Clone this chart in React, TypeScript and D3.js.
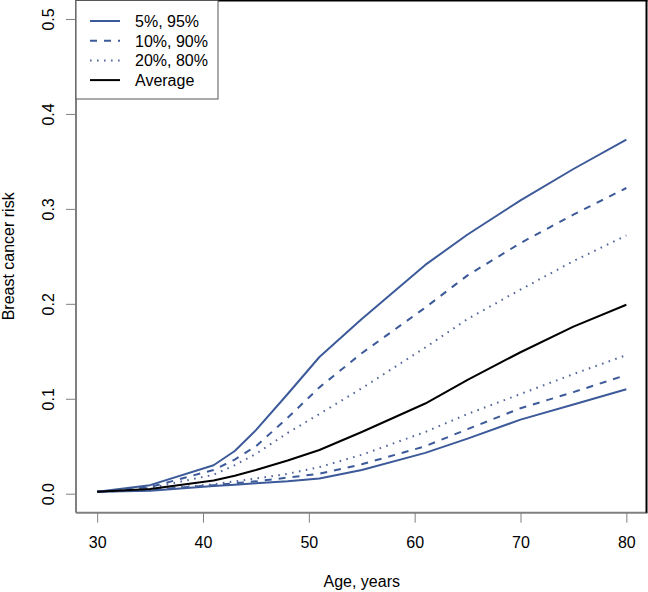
import React, { useEffect, useRef } from 'react';
import * as d3 from 'd3';

const ages = [30, 35, 41, 43, 45, 48, 51, 55, 61, 65, 70, 75, 80];

// risk percentiles and the average
const p95 = [0.002, 0.009, 0.030, 0.045, 0.067, 0.105, 0.144, 0.184, 0.241, 0.273, 0.309, 0.342, 0.373];
const p90 = [0.002, 0.007, 0.025, 0.036, 0.050, 0.080, 0.112, 0.148, 0.196, 0.230, 0.264, 0.294, 0.322];
const p80 = [0.002, 0.006, 0.020, 0.030, 0.042, 0.064, 0.084, 0.111, 0.154, 0.184, 0.215, 0.245, 0.272];
const avg = [0.002, 0.005, 0.014, 0.019, 0.025, 0.035, 0.046, 0.065, 0.095, 0.120, 0.149, 0.176, 0.199];
const p20 = [0.002, 0.004, 0.010, 0.013, 0.016, 0.021, 0.028, 0.041, 0.065, 0.084, 0.105, 0.126, 0.146];
const p10 = [0.002, 0.004, 0.009, 0.011, 0.013, 0.017, 0.021, 0.031, 0.050, 0.068, 0.090, 0.107, 0.125];
const p05 = [0.002, 0.003, 0.008, 0.0095, 0.011, 0.013, 0.016, 0.025, 0.043, 0.058, 0.078, 0.094, 0.110];

const xTicks = [30, 40, 50, 60, 70, 80];
const yTicks = [0, 0.1, 0.2, 0.3, 0.4, 0.5];

const legendLabels = ['5%, 95%', '10%, 90%', '20%, 80%', 'Average'];

const BLUE = '#3c5a99';
const DOT = '#56679a';
const AXIS = '#808080';
const FONT = 'Liberation Sans, Arial, sans-serif';
const FS = 16;

export default function App() {
  const svgRef = useRef<SVGSVGElement>(null);

  useEffect(() => {
    const width = 648;
    const height = 592;
    // plot region (R style: data range padded by 4%)
    const left = 76;
    const right = 647.5;
    const top = 0;
    const bottom = 512.7;

    const svg = d3.select(svgRef.current).attr('width', width).attr('height', height);
    svg.selectAll('*').remove();

    const xScale = d3.scaleLinear().domain([28, 82]).range([left, right]);
    const yScale = d3.scaleLinear().domain([-0.02, 0.52]).range([bottom, top]);

    svg.append('rect').attr('width', width).attr('height', height).attr('fill', 'white');

    // lines
    const styles = [
      { data: p95, color: BLUE, dash: null },
      { data: p05, color: BLUE, dash: null },
      { data: p90, color: BLUE, dash: '7 7' },
      { data: p10, color: BLUE, dash: '7 7' },
      { data: p80, color: DOT, dash: '1.6 5.4' },
      { data: p20, color: DOT, dash: '1.6 5.4' },
      { data: avg, color: 'black', dash: null },
    ];

    const line = d3
      .line<number>()
      .x((d, i) => xScale(ages[i]))
      .y((d) => yScale(d));

    styles.forEach((s) => {
      svg
        .append('path')
        .attr('d', line(s.data))
        .attr('fill', 'none')
        .attr('stroke', s.color)
        .attr('stroke-width', 2)
        .attr('stroke-dasharray', s.dash)
        .attr('stroke-linejoin', 'round');
    });

    // axes
    const xAxis = svg
      .append('g')
      .attr('transform', `translate(0, ${bottom})`)
      .call(d3.axisBottom(xScale).tickValues(xTicks).tickSize(10).tickSizeOuter(0).tickPadding(14));
    xAxis.select('.domain').remove();
    xAxis.selectAll('line').attr('stroke', AXIS);
    xAxis.selectAll('text').attr('font-size', FS).attr('font-family', FONT).attr('fill', 'black');

    const yAxis = svg
      .append('g')
      .attr('transform', `translate(${left}, 0)`)
      .call(d3.axisLeft(yScale).tickValues(yTicks).tickSize(10).tickFormat(d3.format('.1f')));
    yAxis.select('.domain').remove();
    yAxis.selectAll('line').attr('stroke', AXIS);
    // rotated labels, like R's las = 0
    yAxis
      .selectAll('text')
      .attr('font-size', FS)
      .attr('font-family', FONT)
      .attr('fill', 'black')
      .attr('x', 0)
      .attr('y', 0)
      .attr('dy', null)
      .attr('text-anchor', 'middle')
      .attr('transform', 'translate(-22, 0) rotate(-90)');

    // frame: gray L for axes, black top/right edge
    svg.append('line').attr('x1', left).attr('x2', left).attr('y1', top).attr('y2', bottom).attr('stroke', AXIS).attr('stroke-width', 2);
    svg.append('line').attr('x1', left).attr('x2', right).attr('y1', bottom).attr('y2', bottom).attr('stroke', AXIS).attr('stroke-width', 2);
    svg.append('line').attr('x1', left).attr('x2', right).attr('y1', top + 0.5).attr('y2', top + 0.5).attr('stroke', 'black').attr('stroke-width', 2);
    svg.append('line').attr('x1', right - 1).attr('x2', right - 1).attr('y1', top).attr('y2', bottom).attr('stroke', 'black').attr('stroke-width', 2);

    // axis titles
    svg
      .append('text')
      .attr('x', (left + right) / 2)
      .attr('y', 587)
      .attr('text-anchor', 'middle')
      .attr('font-size', FS)
      .attr('font-family', FONT)
      .text('Age, years');

    svg
      .append('text')
      .attr('transform', `translate(13.5, ${(top + bottom) / 2}) rotate(-90)`)
      .attr('text-anchor', 'middle')
      .attr('font-size', FS)
      .attr('font-family', FONT)
      .text('Breast cancer risk');

    // legend
    const legend = svg.append('g');
    legend
      .append('rect')
      .attr('x', left)
      .attr('y', 0.5)
      .attr('width', 142)
      .attr('height', 98.5)
      .attr('fill', 'white')
      .attr('stroke', '#555');
    const legendStyles = [
      { color: BLUE, dash: null },
      { color: BLUE, dash: '7 7' },
      { color: DOT, dash: '1.6 5.4' },
      { color: 'black', dash: null },
    ];
    legendLabels.forEach((label, i) => {
      const y = 21 + i * 19.7;
      legend
        .append('line')
        .attr('x1', 90)
        .attr('x2', 120)
        .attr('y1', y)
        .attr('y2', y)
        .attr('stroke', legendStyles[i].color)
        .attr('stroke-width', 2)
        .attr('stroke-dasharray', legendStyles[i].dash);
      legend
        .append('text')
        .attr('x', 135)
        .attr('y', y + 6)
        .attr('font-size', FS)
        .attr('font-family', FONT)
        .text(label);
    });
  }, []);

  return <svg ref={svgRef} style={{ position: 'absolute', left: 0, top: 0, display: 'block' }} />;
}
